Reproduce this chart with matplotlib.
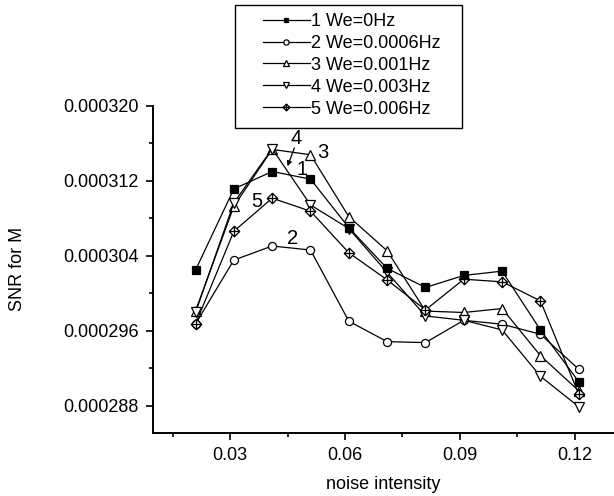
import matplotlib
matplotlib.use("Agg")
import matplotlib.pyplot as plt
from matplotlib.markers import MarkerStyle
from matplotlib.patches import Rectangle
from matplotlib.path import Path
from matplotlib.ticker import FormatStrFormatter, MultipleLocator

plt.rcParams["font.family"] = ["Liberation Sans", "DejaVu Sans"]
plt.rcParams["font.size"] = 13

noise = [0.021, 0.031, 0.041, 0.051, 0.061, 0.071, 0.081, 0.091, 0.101, 0.111, 0.121]

snr_we0 = [302.47, 311.13, 312.98, 312.17, 307.0, 302.65, 300.62, 301.9, 302.36, 296.09, 290.57]
snr_we0006 = [296.73, 303.54, 305.04, 304.61, 297.02, 294.84, 294.74, 297.12, 296.70, 295.63, 291.9]
snr_we001 = [298.12, 309.28, 315.34, 314.77, 308.17, 304.53, 298.1, 297.95, 298.37, 293.35, 289.6]
snr_we003 = [297.95, 309.64, 315.41, 309.42, 306.9, 302.22, 297.58, 297.12, 296.09, 291.15, 287.9]
snr_we006 = [296.73, 306.61, 310.14, 308.75, 304.32, 301.43, 298.22, 301.5, 301.22, 299.19, 289.25]

labels = ["1 We=0Hz", "2 We=0.0006Hz", "3 We=0.001Hz", "4 We=0.003Hz", "5 We=0.006Hz"]
curve_tags = ["1", "2", "3", "4", "5"]
# where the curve numbers sit in the plot (data coords, SNR in 1e-6)
tag_x = [0.0488, 0.0462, 0.0541, 0.0473, 0.0371]
tag_y = [313.17, 305.79, 314.98, 316.48, 309.74]

# diamond with a cross inside
diamond_cross = MarkerStyle(Path(
    [(0, 1), (1, 0), (0, -1), (-1, 0), (0, 1),
     (0, 1), (0, -1), (-1, 0), (1, 0)],
    [Path.MOVETO, Path.LINETO, Path.LINETO, Path.LINETO, Path.CLOSEPOLY,
     Path.MOVETO, Path.LINETO, Path.MOVETO, Path.LINETO],
))

styles = [
    dict(marker="s", mfc="black", ms=5.2, zorder=4),
    dict(marker="o", mfc="white", ms=5.8, zorder=3),
    dict(marker="^", mfc="white", ms=6.5, zorder=3),
    dict(marker="v", mfc="white", ms=6.5, zorder=3),
    dict(marker=diamond_cross, mfc="white", ms=7.5, zorder=3),
]

fig = plt.figure(figsize=(6.14, 4.96), dpi=100)
ax = fig.add_axes([153 / 614, 63 / 496, 461 / 614, 327.3 / 496])

series = [snr_we0, snr_we0006, snr_we001, snr_we003, snr_we006]
for vals, lab, st in zip(series, labels, styles):
    ax.plot(noise, [v * 1e-6 for v in vals], color="black", lw=0.9,
            mec="black", mew=0.9, label=lab, **st)

for tag, tx, ty in zip(curve_tags, tag_x, tag_y):
    ax.text(tx, ty * 1e-6, tag, ha="center", va="center", fontsize=14.5)
ax.annotate("", xy=(0.0450, 313.55e-6), xytext=(0.0468, 315.5e-6),
            arrowprops=dict(arrowstyle="-|>", color="black", lw=0.9,
                            mutation_scale=7, shrinkA=0, shrinkB=0))

ax.set_xlim(0.0099, 0.1302)
ax.set_ylim(0.0002851, 0.000320)
ax.xaxis.set_major_locator(MultipleLocator(0.03))
ax.xaxis.set_minor_locator(MultipleLocator(0.015))
ax.yaxis.set_major_locator(MultipleLocator(0.000008))
ax.yaxis.set_minor_locator(MultipleLocator(0.000004))
ax.xaxis.set_major_formatter(FormatStrFormatter("%.2f"))
ax.yaxis.set_major_formatter(FormatStrFormatter("%.6f"))
ax.tick_params(which="major", direction="out", length=5, width=1.2, pad=5)
ax.tick_params(which="minor", direction="out", length=3, width=1.2)
for side in ["top", "right"]:
    ax.spines[side].set_visible(False)
for side in ["left", "bottom"]:
    ax.spines[side].set_linewidth(1.4)

ax.set_xlabel("noise intensity", labelpad=9)
ax.set_ylabel("SNR for M", labelpad=27)

# legend box drawn by hand, Origin style
fig.patches.append(Rectangle((235 / 614, 1 - 128 / 496), 227 / 614, 123 / 496,
                             transform=fig.transFigure, fill=False,
                             ec="black", lw=1.0))
fig.legend(loc="upper left", bbox_to_anchor=(263 / 614, 1 - 13 / 496),
           frameon=False, borderpad=0, borderaxespad=0, handlelength=2.6,
           handletextpad=0.05, labelspacing=0.27, markerscale=0.65, fontsize=13)

fig.savefig("out.png", dpi=100)
